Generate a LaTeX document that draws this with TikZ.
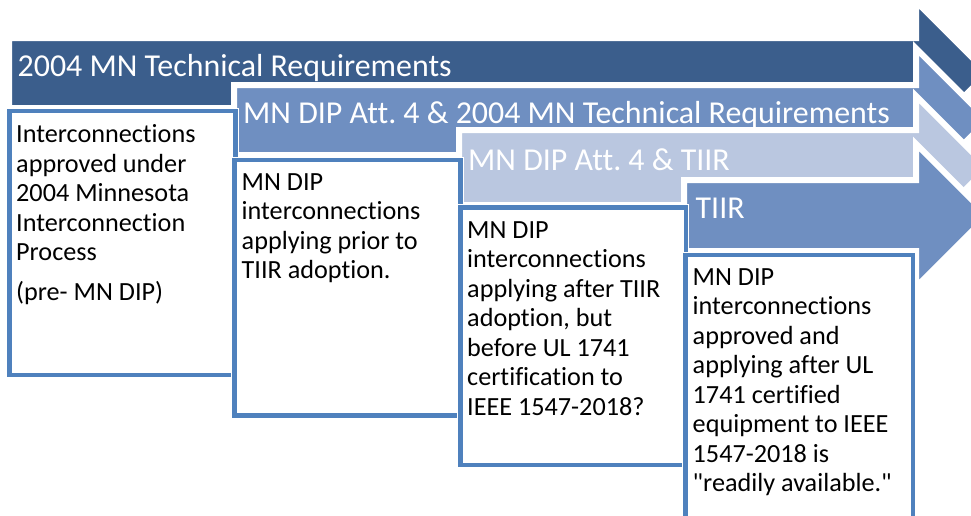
\documentclass[tikz,border=0pt]{standalone}
\usepackage{fontspec}
\newfontfamily\calib{Carlito}[Ligatures={NoCommon}]
\frenchspacing
\definecolor{arrdark}{HTML}{3B5E8C}
\definecolor{arrmid}{HTML}{6F8FC1}
\definecolor{arrlight}{HTML}{BAC7E0}
\definecolor{boxblue}{HTML}{4F81BD}
\newcommand\mystep[4]{%
  \pgfmathsetmacro\cc{(#2+#3)/2}%
  \filldraw[arrowshape, fill=#4]
    ({#1-3},{#2-3}) -- (916,{#2-3}) -- (916,{\cc-71.7}) -- (987.7,\cc)
    -- (916,{\cc+71.7}) -- (916,{#3+3}) -- ({#1-3},{#3+3}) -- cycle;}
\begin{document}
\begin{tikzpicture}[x=1pt,y=-1pt,
  arrowshape/.style={draw=white, line width=6pt, line join=miter},
  boxshape/.style={fill=white, draw=boxblue, line width=4.5pt,
    preaction={draw=white, line width=6.5pt}},
  titletext/.style={anchor=base west, inner sep=0pt, text=white,
    font=\calib\frenchspacing\fontsize{31.9}{38}\selectfont},
  bodytext/.style={anchor=base west, inner sep=0pt,
    font=\calib\frenchspacing\fontsize{26.2}{29.5}\selectfont}]
\useasboundingbox (0,0) rectangle (971,515);
\clip (0,0) rectangle (971,515);
% arrows
\mystep{12}{41}{105}{arrdark}
\mystep{237}{88}{152}{arrmid}
\mystep{462}{133}{202}{arrlight}
\mystep{687}{183}{248}{arrmid}
% boxes
\draw[boxshape] (9.5,111) rectangle (235.5,375);
\draw[boxshape] (234.5,160) rectangle (460.5,415.5);
\draw[boxshape] (460.5,207.5) rectangle (686,465);
\draw[boxshape] (685.5,255) rectangle (913,530);
% titles
\node[titletext] (t1) at (17.5,76) {2004 MN Technical Requirements};
\node[titletext] (t2) at (243,123) {MN DIP Att. 4 \& 2004 MN Technical Requirements};
\node[titletext] (t3) at (468,170) {MN DIP Att. 4 \& TIIR};
\node[titletext] (t4) at (695.5,218) {TIIR};
% box texts
\node[bodytext] (b1) at (16,142.7) {\begin{tabular}[t]{@{}l@{}}Interconnections\\approved under\\2004 Minnesota\\Interconnection\\Process\\[10.7pt](pre- MN DIP)\end{tabular}};
\node[bodytext] (b2) at (241.5,190) {\begin{tabular}[t]{@{}l@{}}MN DIP\\interconnections\\applying prior to\\TIIR adoption.\end{tabular}};
\node[bodytext] (b3) at (467,238) {\begin{tabular}[t]{@{}l@{}}MN DIP\\interconnections\\applying after TIIR\\adoption, but\\before UL 1741\\certification to\\IEEE 1547-2018?\end{tabular}};
\node[bodytext] (b4) at (692.5,285) {\begin{tabular}[t]{@{}l@{}}MN DIP\\interconnections\\approved and\\applying after UL\\1741 certified\\equipment to IEEE\\1547-2018 is\\"readily available."\end{tabular}};
\end{tikzpicture}
\end{document}
